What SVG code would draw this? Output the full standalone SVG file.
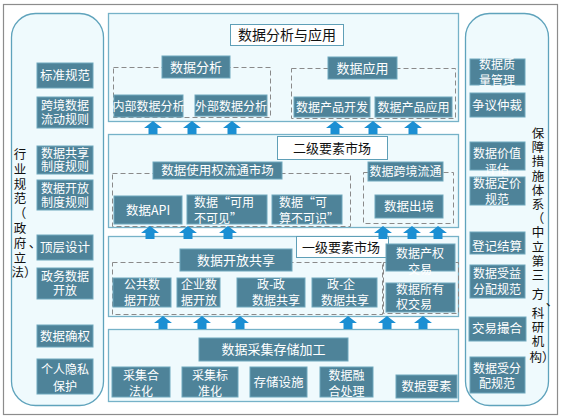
<svg xmlns="http://www.w3.org/2000/svg" width="562" height="419" viewBox="0 0 562 419">
<style>
text{font-family:"Noto Sans CJK SC","Noto Sans",sans-serif;}
.side{fill:#effafd;stroke:#5fa3bc;stroke-width:1.3;}
.panel{fill:#effafd;stroke:#76b2c8;stroke-width:1.3;}
.box{fill:#4e8399;stroke:#6ea7bd;stroke-width:1;}
.title{fill:#ffffff;stroke:#5f9fb7;stroke-width:1;}
.dash{fill:none;stroke:#8a8a8a;stroke-width:1;stroke-dasharray:5,3;}
.w{fill:#ffffff;font-size:12px;text-anchor:middle;}
.ws{fill:#ffffff;font-size:12px;text-anchor:start;}
.k{fill:#111111;font-size:13px;text-anchor:middle;}
.v{fill:#111111;font-size:12.5px;text-anchor:middle;}
.arr{fill:#1b8fd3;}
</style>
<rect x="3.5" y="4.5" width="554" height="410" fill="#ffffff" stroke="#8c8c8c" stroke-width="1.2"/>

<g id="left-panel">
<rect class="side" x="11.5" y="13.5" width="92" height="392" rx="24"/>
<text class="v" x="20"><tspan x="20" y="159">行</tspan><tspan x="20" y="173.8">业</tspan><tspan x="20" y="188.6">规</tspan><tspan x="20" y="203.4">范</tspan><tspan x="20" y="218.2">（</tspan><tspan x="20" y="233">政</tspan><tspan x="20" y="247.8">府</tspan><tspan x="20" y="262.6">立</tspan><tspan x="24" y="277.4">法）</tspan></text>
<text class="v" x="35" y="248">、</text>
</g>
<g id="n-biaozhun"><rect class="box" x="37" y="63" width="56" height="25"/><text class="w" x="65" y="80" style="font-size:12.5px">标准规范</text></g>
<g id="n-kuajing"><rect class="box" x="37" y="97" width="56" height="31"/><text class="w" x="65" y="110">跨境数据</text><text class="w" x="65" y="124">流动规则</text></g>
<g id="n-gongxiang"><rect class="box" x="37" y="146" width="56" height="28"/><text class="w" x="65" y="158">数据共享</text><text class="w" x="65" y="171">制度规则</text></g>
<g id="n-kaifang"><rect class="box" x="37" y="180" width="56" height="30"/><text class="w" x="65" y="193">数据开放</text><text class="w" x="65" y="207">制度规则</text></g>
<g id="n-dingceng"><rect class="box" x="37" y="235" width="56" height="25"/><text class="w" x="65" y="252" style="font-size:12.5px">顶层设计</text></g>
<g id="n-zhengwu"><rect class="box" x="37" y="268" width="56" height="31"/><text class="w" x="65" y="281">政务数据</text><text class="w" x="65" y="295">开放</text></g>
<g id="n-quequan"><rect class="box" x="37" y="325" width="56" height="22"/><text class="w" x="65" y="341" style="font-size:12.5px">数据确权</text></g>
<g id="n-yinsi"><rect class="box" x="37" y="359" width="56" height="35"/><text class="w" x="65" y="374">个人隐私</text><text class="w" x="65" y="391">保护</text></g>

<g id="right-panel">
<rect class="side" x="465.5" y="13.5" width="83" height="392" rx="24"/>
<text class="v"><tspan x="538" y="138">保</tspan><tspan x="538" y="152.2">障</tspan><tspan x="538" y="166.4">措</tspan><tspan x="538" y="180.6">施</tspan><tspan x="538" y="194.8">体</tspan><tspan x="538" y="209">系</tspan><tspan x="538" y="223.2">（</tspan><tspan x="538" y="237.4">中</tspan><tspan x="538" y="251.6">立</tspan><tspan x="538" y="265.8">第</tspan><tspan x="538" y="280">三</tspan><tspan x="538" y="299">方</tspan><tspan x="538" y="318">科</tspan><tspan x="538" y="332.2">研</tspan><tspan x="538" y="346.4">机</tspan><tspan x="542" y="362">构）</tspan></text>
<text class="v" x="552" y="306">、</text>
</g>
<g id="n-zhiliang"><rect class="box" x="470" y="59" width="55" height="26"/><text class="w" x="497" y="69">数据质</text><text class="w" x="497" y="85">量管理</text></g>
<g id="n-zhongcai"><rect class="box" x="470" y="93" width="55" height="24"/><text class="w" x="497" y="110" style="font-size:12.5px">争议仲裁</text></g>
<g id="n-jiazhi"><rect class="box" x="470" y="142" width="55" height="28"/><text class="w" x="497" y="158">数据价值</text><text class="w" x="497" y="174">评估</text></g>
<g id="n-dingjia"><rect class="box" x="470" y="177" width="55" height="28"/><text class="w" x="497" y="188">数据定价</text><text class="w" x="497" y="204">规范</text></g>
<g id="n-jiesuan"><rect class="box" x="470" y="232" width="55" height="22"/><text class="w" x="497" y="251" style="font-size:12.5px">登记结算</text></g>
<g id="n-shouyi"><rect class="box" x="470" y="265" width="55" height="33"/><text class="w" x="497" y="278">数据受益</text><text class="w" x="497" y="294">分配规范</text></g>
<g id="n-cuohe"><rect class="box" x="469" y="317" width="57" height="24"/><text class="w" x="497" y="333" style="font-size:12.5px">交易撮合</text></g>
<g id="n-shoufen"><rect class="box" x="470" y="357" width="55" height="36"/><text class="w" x="497" y="373">数据受分</text><text class="w" x="497" y="388">配规范</text></g>

<g id="panel-top">
<rect class="panel" x="108.5" y="13.5" width="350" height="108"/>
<rect class="title" x="230.5" y="24.5" width="113" height="21"/>
<text class="k" x="287" y="40" style="font-size:14px">数据分析与应用</text>
<rect class="dash" x="113.5" y="67.5" width="157" height="50"/>
<rect class="dash" x="291.5" y="68.5" width="164" height="50"/>
</g>
<g id="n-fenxi"><rect class="box" x="162" y="56" width="68" height="22"/><text class="w" x="196" y="72" style="font-size:13px">数据分析</text></g>
<g id="n-neibu"><rect class="box" x="114" y="95" width="69" height="22"/><text class="w" x="148.5" y="111">内部数据分析</text></g>
<g id="n-waibu"><rect class="box" x="195" y="95" width="72" height="21"/><text class="w" x="231" y="111">外部数据分析</text></g>
<g id="n-yingyong"><rect class="box" x="328" y="57" width="69" height="22"/><text class="w" x="362.5" y="73" style="font-size:13px">数据应用</text></g>
<g id="n-kaifa"><rect class="box" x="294" y="97" width="76" height="20"/><text class="w" x="332" y="112">数据产品开发</text></g>
<g id="n-chanpinyy"><rect class="box" x="375" y="97" width="77" height="20"/><text class="w" x="413.5" y="112">数据产品应用</text></g>

<g id="panel-second">
<rect class="panel" x="108.5" y="134.5" width="350" height="93"/>
<rect class="title" x="277.5" y="136.5" width="110" height="23"/>
<text class="k" x="332" y="153">二级要素市场</text>
<rect class="dash" x="112.5" y="173.5" width="238" height="53"/>
<rect class="dash" x="363.5" y="172.5" width="90" height="51"/>
</g>
<g id="n-shiyongquan"><rect class="box" x="153" y="162" width="129" height="17"/><text class="w" x="217.5" y="175" style="font-size:12.5px">数据使用权流通市场</text></g>
<g id="n-api"><rect class="box" x="114" y="196" width="68" height="28"/><text class="w" x="148" y="215" style="font-size:12.5px">数据API</text></g>
<g id="n-keyong"><rect class="box" x="187" y="195" width="80" height="29"/><text class="ws" x="194" y="207">数据“可用</text><text class="ws" x="194" y="223">不可见”</text></g>
<g id="n-kesuan"><rect class="box" x="272" y="195" width="70" height="29"/><text class="ws" x="279" y="207">数据“可</text><text class="ws" x="279" y="223">算不可识”</text></g>
<g id="n-kuajingliutong"><rect class="box" x="368" y="162" width="75" height="19"/><text class="w" x="405.5" y="176">数据跨境流通</text></g>
<g id="n-chujing"><rect class="box" x="375" y="195" width="68" height="23"/><text class="w" x="409" y="211" style="font-size:12.5px">数据出境</text></g>

<g id="panel-third">
<rect class="panel" x="108.5" y="236.5" width="350" height="80"/>
<rect class="title" x="296.5" y="236.5" width="92" height="21"/>
<text class="k" x="341" y="252">一级要素市场</text>
<rect class="dash" x="112.5" y="262.5" width="270" height="52"/>
<rect class="dash" x="383.5" y="262.5" width="75" height="51"/>
</g>
<g id="n-kaifanggongxiang"><rect class="box" x="180" y="249" width="112" height="22"/><text class="w" x="236" y="265" style="font-size:13px">数据开放共享</text></g>
<g id="n-gonggong"><rect class="box" x="113" y="278" width="58" height="29"/><text class="w" x="142" y="289">公共数</text><text class="w" x="142" y="305">据开放</text></g>
<g id="n-qiye"><rect class="box" x="177" y="278" width="43" height="29"/><text class="w" x="199" y="289">企业数</text><text class="w" x="199" y="305">据开放</text></g>
<g id="n-zhengzheng"><rect class="box" x="237" y="278" width="68" height="29"/><text class="w" x="271" y="289">政-政</text><text class="w" x="276" y="305">数据共享</text></g>
<g id="n-zhengqi"><rect class="box" x="312" y="278" width="65" height="29"/><text class="w" x="341" y="289">政-企</text><text class="w" x="345" y="305">数据共享</text></g>
<g id="n-chanquan"><rect class="box" x="386" y="244" width="69" height="27"/><text class="w" x="420" y="258">数据产权</text><text class="w" x="420" y="274">交易</text></g>
<g id="n-suoyouquan"><rect class="box" x="386" y="283" width="69" height="29"/><text class="ws" x="396" y="294">数据所有</text><text class="ws" x="396" y="309">权交易</text></g>

<g id="panel-bottom">
<rect class="panel" x="108.5" y="329.5" width="350" height="72"/>
</g>
<g id="n-caiji"><rect class="box" x="199" y="338" width="149" height="23"/><text class="w" x="273.5" y="354" style="font-size:13px">数据采集存储加工</text></g>
<g id="n-hefa"><rect class="box" x="112" y="367" width="58" height="30"/><text class="w" x="141" y="380">采集合</text><text class="w" x="141" y="396">法化</text></g>
<g id="n-biaozhunhua"><rect class="box" x="182" y="367" width="56" height="30"/><text class="w" x="210" y="380">采集标</text><text class="w" x="210" y="396">准化</text></g>
<g id="n-cunchu"><rect class="box" x="250" y="367" width="57" height="30"/><text class="w" x="278.5" y="387" style="font-size:12.5px">存储设施</text></g>
<g id="n-ronghe"><rect class="box" x="320" y="367" width="53" height="30"/><text class="w" x="346.5" y="380">数据融</text><text class="w" x="346.5" y="396">合处理</text></g>
<g id="n-yaosu"><rect class="box" x="396" y="375" width="61" height="23"/><text class="w" x="426.5" y="391" style="font-size:12.5px">数据要素</text></g>

<defs>
<path id="up" d="M0,0 L9,7 L4.5,7 L4.5,13 L-4.5,13 L-4.5,7 L-9,7 Z"/>
</defs>
<g id="connectors" class="arr">
<use href="#up" x="153" y="121"/><use href="#up" x="192" y="121"/><use href="#up" x="232" y="121"/>
<use href="#up" x="335" y="121"/><use href="#up" x="373" y="121"/><use href="#up" x="413" y="121"/>
<use href="#up" x="150" y="226"/><use href="#up" x="188" y="226"/><use href="#up" x="228" y="226"/>
<use href="#up" x="383" y="226"/><use href="#up" x="412" y="226"/><use href="#up" x="438" y="226"/>
<use href="#up" x="163" y="316"/><use href="#up" x="202" y="316"/><use href="#up" x="240" y="316"/>
<use href="#up" x="348" y="316"/><use href="#up" x="387" y="316"/><use href="#up" x="423" y="316"/>
</g>
</svg>
